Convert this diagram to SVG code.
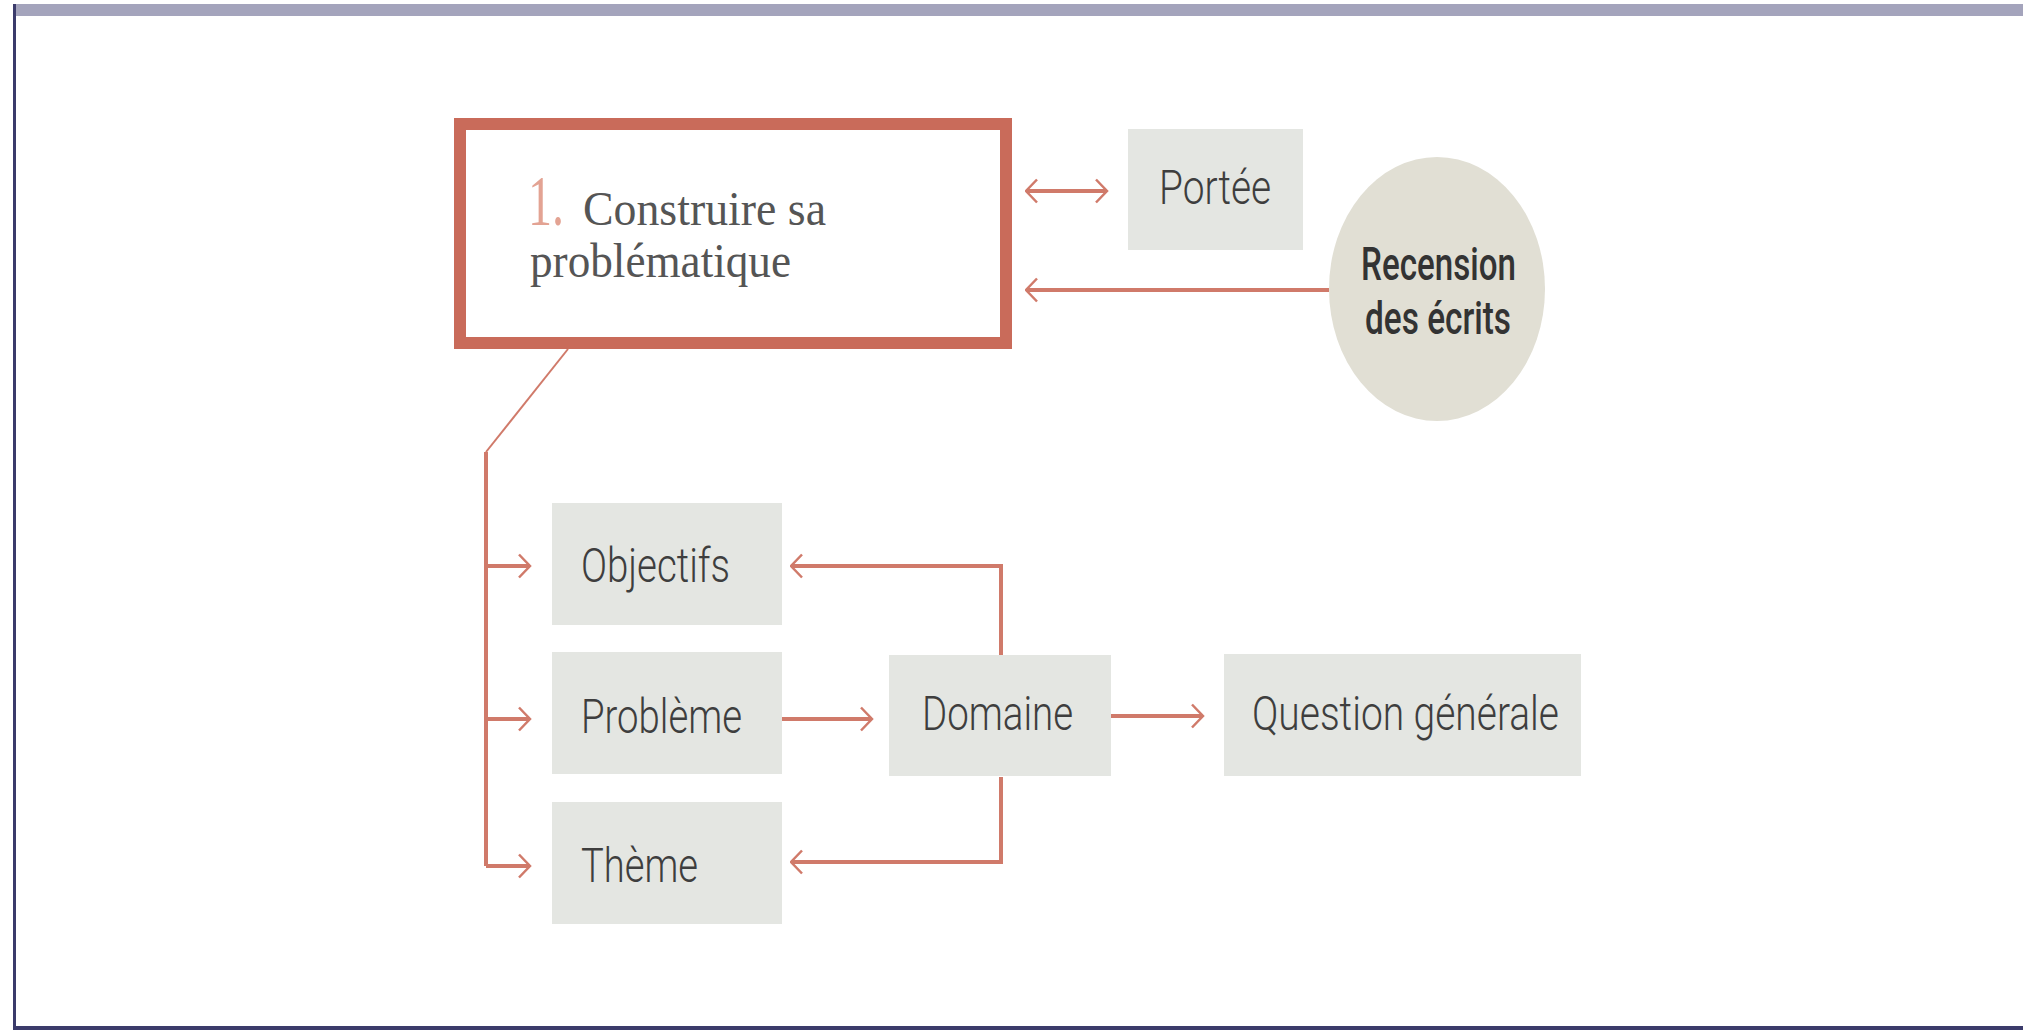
<svg xmlns="http://www.w3.org/2000/svg" width="2023" height="1030" viewBox="0 0 2023 1030">
<defs>
<style>
.box{fill:#e4e6e2}
.lbl{font-family:Roboto,"Liberation Sans",sans-serif;font-weight:300;font-size:48px;fill:#3e3e3e}
.ser{font-family:"Liberation Serif",serif;font-size:48px;fill:#555}
.con{fill:none;stroke:#d07a6a;stroke-width:4}
.thin{fill:none;stroke:#d07a6a;stroke-width:2}
</style>
<marker id="ah" viewBox="0 0 14 26" markerWidth="14" markerHeight="26" refX="12.5" refY="13" orient="auto-start-reverse" markerUnits="userSpaceOnUse">
<path d="M1.5,1.5 L12.5,13 L1.5,24.5" fill="none" stroke="#d07a6a" stroke-width="2.5"/>
</marker>
</defs>
<rect x="0" y="0" width="2023" height="1030" fill="#ffffff"/>
<g id="frame">
<rect x="13" y="4" width="2010" height="12" fill="#a4a4bc"/>
<rect x="13" y="4" width="3" height="1026" fill="#3b3b6b"/>
<rect x="13" y="1026" width="2010" height="4" fill="#3b3b6b"/>
</g>
<g id="connectors">
<line class="con" x1="1026" y1="191" x2="1107" y2="191" marker-start="url(#ah)" marker-end="url(#ah)"/>
<line class="con" x1="1329" y1="290" x2="1026" y2="290" marker-end="url(#ah)"/>
<path class="thin" d="M568,349 L486,452"/>
<path class="con" d="M486,452 V866"/>
<line class="con" x1="486" y1="566" x2="530" y2="566" marker-end="url(#ah)"/>
<line class="con" x1="486" y1="719" x2="530" y2="719" marker-end="url(#ah)"/>
<line class="con" x1="486" y1="866" x2="530" y2="866" marker-end="url(#ah)"/>
<line class="con" x1="782" y1="719" x2="872" y2="719" marker-end="url(#ah)"/>
<line class="con" x1="1111" y1="716" x2="1203" y2="716" marker-end="url(#ah)"/>
<path class="con" d="M1001,655 V566 H791" marker-end="url(#ah)"/>
<path class="con" d="M1001,777 V862 H791" marker-end="url(#ah)"/>
</g>
<g id="main">
<rect x="460" y="124" width="546" height="219" fill="#ffffff" stroke="#c96b5a" stroke-width="12"/>
<text x="528" y="225" font-family="Liberation Serif, serif" font-size="72" fill="#e3a393" textLength="36" lengthAdjust="spacingAndGlyphs">1.</text>
<text class="ser" x="583" y="225" textLength="243" lengthAdjust="spacingAndGlyphs">Construire sa</text>
<text class="ser" x="530" y="277" textLength="261" lengthAdjust="spacingAndGlyphs">problématique</text>
</g>
<g id="portee">
<rect class="box" x="1128" y="129" width="175" height="121"/>
<text class="lbl" x="1159" y="204" textLength="112" lengthAdjust="spacingAndGlyphs">Portée</text>
</g>
<g id="recension">
<ellipse cx="1437" cy="289" rx="108" ry="132" fill="#e1dfd4"/>
<text x="1361" y="280" font-family="Roboto,'Liberation Sans',sans-serif" font-weight="500" font-size="46" fill="#333" textLength="155" lengthAdjust="spacingAndGlyphs">Recension</text>
<text x="1365" y="334" font-family="Roboto,'Liberation Sans',sans-serif" font-weight="500" font-size="46" fill="#333" textLength="146" lengthAdjust="spacingAndGlyphs">des écrits</text>
</g>
<g id="objectifs">
<rect class="box" x="552" y="503" width="230" height="122"/>
<text class="lbl" x="581" y="582" textLength="149" lengthAdjust="spacingAndGlyphs">Objectifs</text>
</g>
<g id="probleme">
<rect class="box" x="552" y="652" width="230" height="122"/>
<text class="lbl" x="581" y="733" textLength="161" lengthAdjust="spacingAndGlyphs">Problème</text>
</g>
<g id="theme">
<rect class="box" x="552" y="802" width="230" height="122"/>
<text class="lbl" x="581" y="882" textLength="117" lengthAdjust="spacingAndGlyphs">Thème</text>
</g>
<g id="domaine">
<rect class="box" x="889" y="655" width="222" height="121"/>
<text class="lbl" x="922" y="730" textLength="151" lengthAdjust="spacingAndGlyphs">Domaine</text>
</g>
<g id="question">
<rect class="box" x="1224" y="654" width="357" height="122"/>
<text class="lbl" x="1252" y="730" textLength="307" lengthAdjust="spacingAndGlyphs">Question générale</text>
</g>
</svg>
